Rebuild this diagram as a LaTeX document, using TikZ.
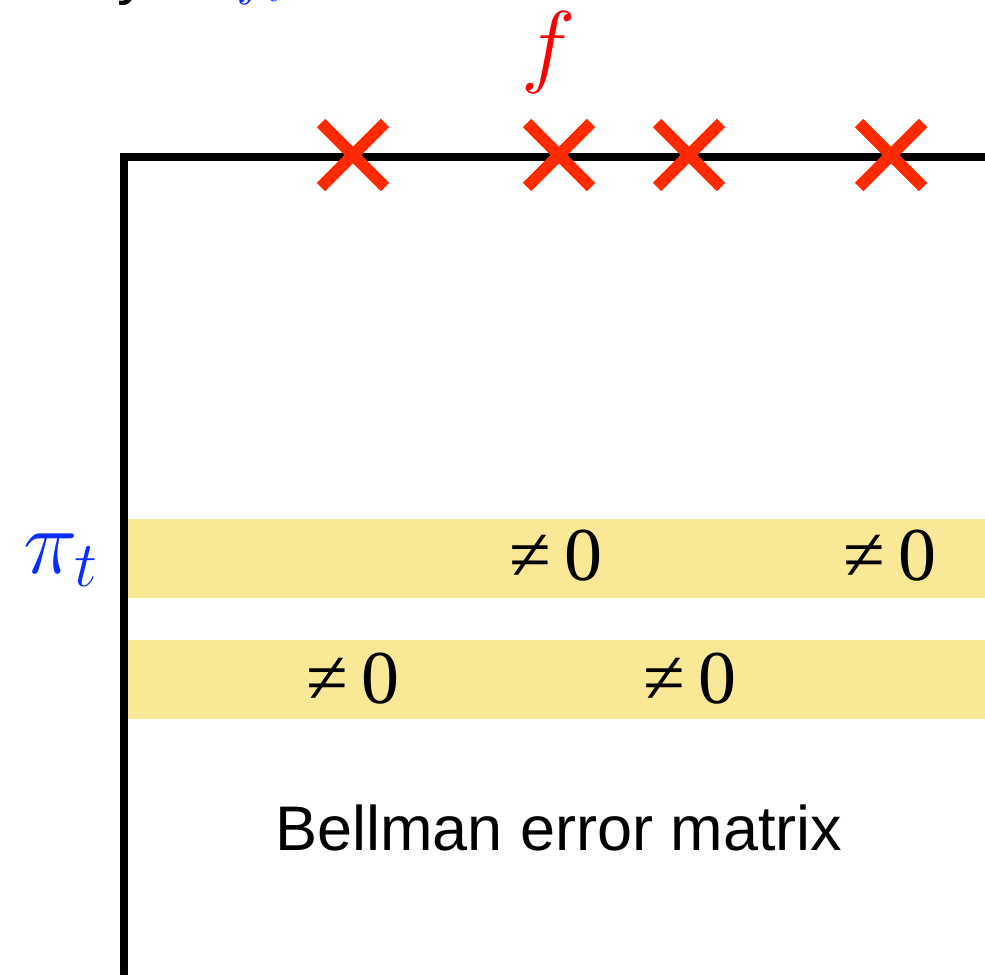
\RequirePackage{fix-cm}
\documentclass[tikz,border=0pt]{standalone}
\usepackage{amsmath}
\usepackage{fontspec}
\setmainfont{Liberation Sans}
\newfontfamily\tmsfont{Liberation Serif}
\usepackage{tikz}
\usetikzlibrary{shapes.misc}
\definecolor{xred}{RGB}{255,42,0}
\definecolor{fred}{RGB}{255,0,0}
\definecolor{piblue}{RGB}{10,45,255}
\definecolor{rowyellow}{RGB}{249,233,151}

\begin{document}
\begin{tikzpicture}[x=1pt,y=-1pt,
    xmark/.style={draw=xred,cross out,line width=12pt,minimum size=52pt,inner sep=0pt},
    band/.style={fill=rowyellow},
    nz/.style={anchor=base,inner sep=0pt,font=\tmsfont\fontsize{76}{80}\selectfont}]
  \useasboundingbox (0,0) rectangle (985,975);
  \clip (0,0) rectangle (985,975);
  \node[anchor=base east,inner sep=0pt,font=\fontsize{63}{70}\selectfont]
       (head) at (301,-8) {policy of \textcolor{piblue}{$f_t$}.};
  % rows of the matrix
  \fill[band] (128,519) rectangle (985,598);
  \fill[band] (128,640) rectangle (985,719);
  \draw[line width=8pt] (985,157) -- (124,157) -- (124,975);
  \foreach \x [count=\i] in {353,559,689,891}
    \node[xmark] (c\i) at (\x,155) {};
  \node[anchor=base,inner sep=0pt,text=fred,font=\fontsize{92}{100}\selectfont]
       (f) at (549,75) {$f$};
  \node[anchor=base,inner sep=0pt,text=piblue,font=\fontsize{92}{100}\selectfont]
       (pi) at (61,573) {$\pi_t$};
  \node[nz] (n1) at (556,580) {≠\,0};
  \node[nz] (n2) at (890,580) {≠\,0};
  \node[nz] (n3) at (353,703) {≠\,0};
  \node[nz] (n4) at (690,703) {≠\,0};
  \node[anchor=base,inner sep=0pt,font=\fontsize{63}{70}\selectfont]
       (lab) at (559,850) {Bellman error matrix};
\end{tikzpicture}
\end{document}
